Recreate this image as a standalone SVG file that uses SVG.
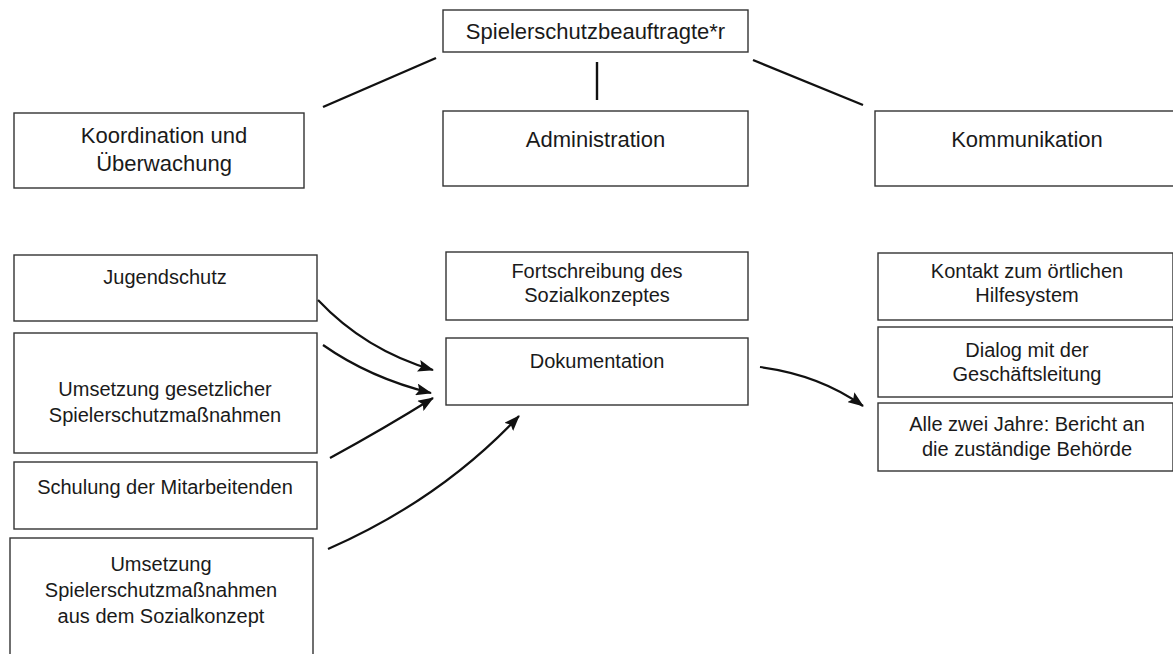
<svg xmlns="http://www.w3.org/2000/svg" width="1173" height="654" viewBox="0 0 1173 654">
<defs>
<style>
.box{fill:#fff;stroke:#333;stroke-width:1.4}
.t1{font-family:"Liberation Sans",Arial,sans-serif;font-size:22px;fill:#1a1a1a;text-anchor:middle}
.t2{font-family:"Liberation Sans",Arial,sans-serif;font-size:20px;fill:#1a1a1a;text-anchor:middle}
.ln{stroke:#111;stroke-width:2.4;fill:none}
.ar{stroke:#111;stroke-width:2.2;fill:none;marker-end:url(#ah)}
</style>
<marker id="ah" viewBox="0 0 16 12" refX="15" refY="6" markerWidth="16" markerHeight="12" markerUnits="userSpaceOnUse" orient="auto">
<path d="M0,0 L16,6 L0,12 L3,6 z" fill="#111"/>
</marker>
</defs>
<rect width="1173" height="654" fill="#fff"/>
<g id="top"><rect class="box" x="443" y="10" width="305" height="42"/><text class="t1" x="595.5" y="39">Spielerschutzbeauftragte*r</text></g>
<g id="koord"><rect class="box" x="14" y="113" width="290" height="75"/><text class="t1" x="164" y="143">Koordination und</text><text class="t1" x="164" y="171">Überwachung</text></g>
<g id="admin"><rect class="box" x="443" y="111" width="305" height="75"/><text class="t1" x="595.5" y="147">Administration</text></g>
<g id="komm"><rect class="box" x="875" y="111" width="310" height="75"/><text class="t1" x="1027" y="147">Kommunikation</text></g>
<g id="jugend"><rect class="box" x="14" y="255" width="303" height="66"/><text class="t2" x="165" y="284">Jugendschutz</text></g>
<g id="gesetz"><rect class="box" x="14" y="333" width="303" height="120"/><text class="t2" x="165" y="396">Umsetzung gesetzlicher</text><text class="t2" x="165" y="422">Spielerschutzmaßnahmen</text></g>
<g id="schulung"><rect class="box" x="14" y="462" width="303" height="67"/><text class="t2" x="165" y="494">Schulung der Mitarbeitenden</text></g>
<g id="sozial"><rect class="box" x="10" y="538" width="303" height="130"/><text class="t2" x="161" y="571">Umsetzung</text><text class="t2" x="161" y="597">Spielerschutzmaßnahmen</text><text class="t2" x="161" y="623">aus dem Sozialkonzept</text></g>
<g id="fort"><rect class="box" x="446" y="252" width="302" height="68"/><text class="t2" x="597" y="278">Fortschreibung des</text><text class="t2" x="597" y="302">Sozialkonzeptes</text></g>
<g id="doku"><rect class="box" x="446" y="338" width="302" height="67"/><text class="t2" x="597" y="368">Dokumentation</text></g>
<g id="kontakt"><rect class="box" x="878" y="253" width="295" height="67"/><text class="t2" x="1027" y="278">Kontakt zum örtlichen</text><text class="t2" x="1027" y="302">Hilfesystem</text></g>
<g id="dialog"><rect class="box" x="878" y="327" width="295" height="70"/><text class="t2" x="1027" y="357">Dialog mit der</text><text class="t2" x="1027" y="381">Geschäftsleitung</text></g>
<g id="bericht"><rect class="box" x="878" y="403" width="295" height="68"/><text class="t2" x="1027" y="431">Alle zwei Jahre: Bericht an</text><text class="t2" x="1027" y="456">die zuständige Behörde</text></g>
<g id="connectors">
<line class="ln" x1="436" y1="58" x2="323" y2="107"/>
<line class="ln" x1="597" y1="62" x2="597" y2="100"/>
<line class="ln" x1="753" y1="60" x2="863" y2="105"/>
<path class="ar" d="M318,300 Q365,350 433,370"/>
<path class="ar" d="M323,345 Q370,378 431,393"/>
<path class="ar" d="M330,458 Q385,428 433,398"/>
<path class="ar" d="M328,549 Q440,500 519,416"/>
<path class="ar" d="M760,367 Q820,375 863,406"/>
</g>
</svg>
